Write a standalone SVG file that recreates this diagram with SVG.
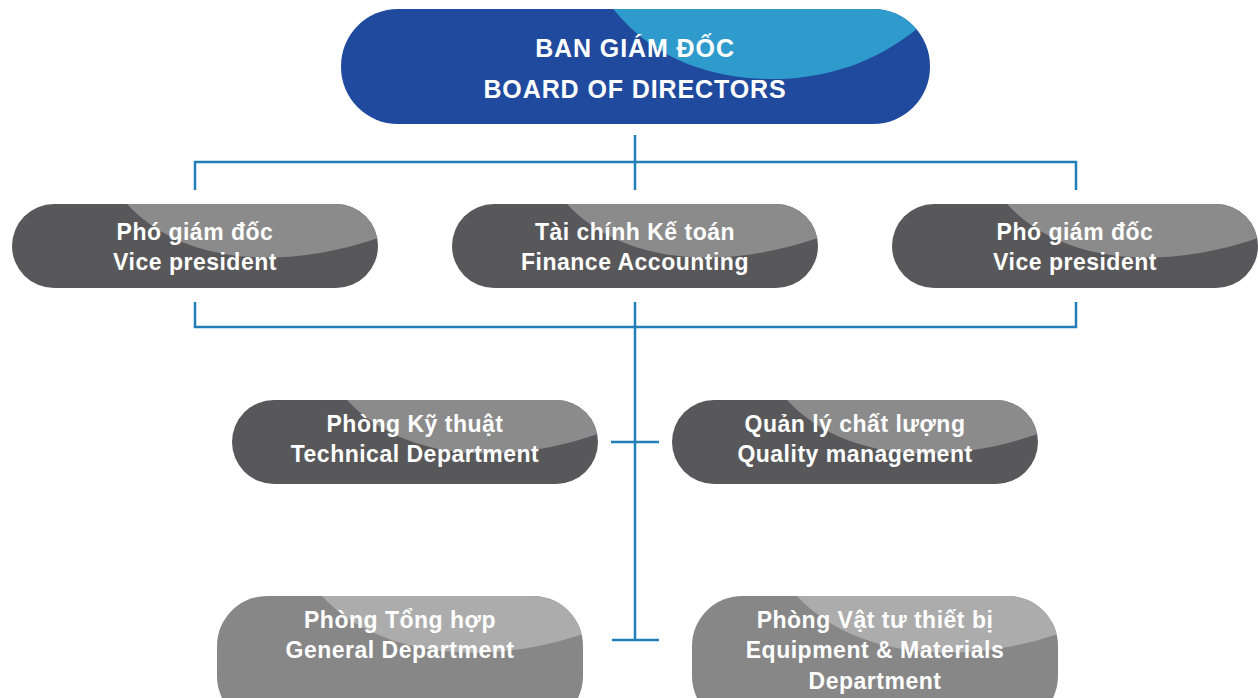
<svg xmlns="http://www.w3.org/2000/svg" width="1258" height="698" viewBox="0 0 1258 698">
<style>
.t{font-family:"Liberation Sans",Arial,sans-serif;font-weight:bold;fill:#fff;text-anchor:middle}
.s{font-size:23px;letter-spacing:0.5px}
.b{font-size:25px;letter-spacing:0.9px}
.c{stroke:#1f7fb6;stroke-width:2.5;fill:none}
.dk{fill:#58585a}.dl{fill:#8b8b8b}
.lk{fill:#878787}.ll{fill:#acacac}
</style>
<defs>
<clipPath id="cTop"><rect x="341" y="9" width="589" height="115" rx="57"/></clipPath>
<clipPath id="cN"><rect x="0" y="0" width="366" height="84" rx="42"/></clipPath>
<clipPath id="cB"><rect x="0" y="0" width="366" height="130" rx="50"/></clipPath>
<path id="ov" d="M115,0 C165,55 260,70 366,34 L366,-5 L115,-5 Z"/>
<path id="ovb" d="M105,0 C160,60 265,72 366,38 L366,-5 L105,-5 Z"/>
</defs>
<g id="connectors">
<path class="c" d="M635,135 V190 M195,190 V162 H1076 V190"/>
<path class="c" d="M195,302 V327 H1076 V302 M635,302 V640 M611,442 H659 M612,640 H659"/>
</g>
<g id="board">
<rect x="341" y="9" width="589" height="115" rx="57" fill="#204a9e"/>
<path clip-path="url(#cTop)" d="M610,5 C660,70 730,80 780,79 C840,77 885,55 918,28 L935,5 Z" fill="#2f9bcc"/>
<text class="t b" x="635" y="57">BAN GIÁM ĐỐC</text>
<text class="t b" x="635" y="98">BOARD OF DIRECTORS</text>
</g>
<g id="vp1" transform="translate(12,204)">
<rect class="dk" width="366" height="84" rx="42"/>
<use href="#ov" class="dl" clip-path="url(#cN)"/>
<text class="t s" x="183" y="36">Phó giám đốc</text>
<text class="t s" x="183" y="66">Vice president</text>
</g>
<g id="finance" transform="translate(452,204)">
<rect class="dk" width="366" height="84" rx="42"/>
<use href="#ov" class="dl" clip-path="url(#cN)"/>
<text class="t s" x="183" y="36">Tài chính Kế toán</text>
<text class="t s" x="183" y="66">Finance Accounting</text>
</g>
<g id="vp2" transform="translate(892,204)">
<rect class="dk" width="366" height="84" rx="42"/>
<use href="#ov" class="dl" clip-path="url(#cN)"/>
<text class="t s" x="183" y="36">Phó giám đốc</text>
<text class="t s" x="183" y="66">Vice president</text>
</g>
<g id="technical" transform="translate(232,400)">
<rect class="dk" width="366" height="84" rx="42"/>
<use href="#ov" class="dl" clip-path="url(#cN)"/>
<text class="t s" x="183" y="32">Phòng Kỹ thuật</text>
<text class="t s" x="183" y="62">Technical Department</text>
</g>
<g id="quality" transform="translate(672,400)">
<rect class="dk" width="366" height="84" rx="42"/>
<use href="#ov" class="dl" clip-path="url(#cN)"/>
<text class="t s" x="183" y="32">Quản lý chất lượng</text>
<text class="t s" x="183" y="62">Quality management</text>
</g>
<g id="general" transform="translate(217,596)">
<rect class="lk" width="366" height="130" rx="50"/>
<use href="#ovb" class="ll" clip-path="url(#cB)"/>
<text class="t s" x="183" y="32">Phòng Tổng hợp</text>
<text class="t s" x="183" y="62">General Department</text>
</g>
<g id="equipment" transform="translate(692,596)">
<rect class="lk" width="366" height="130" rx="50"/>
<use href="#ovb" class="ll" clip-path="url(#cB)"/>
<text class="t s" x="183" y="32">Phòng Vật tư thiết bị</text>
<text class="t s" x="183" y="62">Equipment &amp; Materials</text>
<text class="t s" x="183" y="93">Department</text>
</g>
</svg>
